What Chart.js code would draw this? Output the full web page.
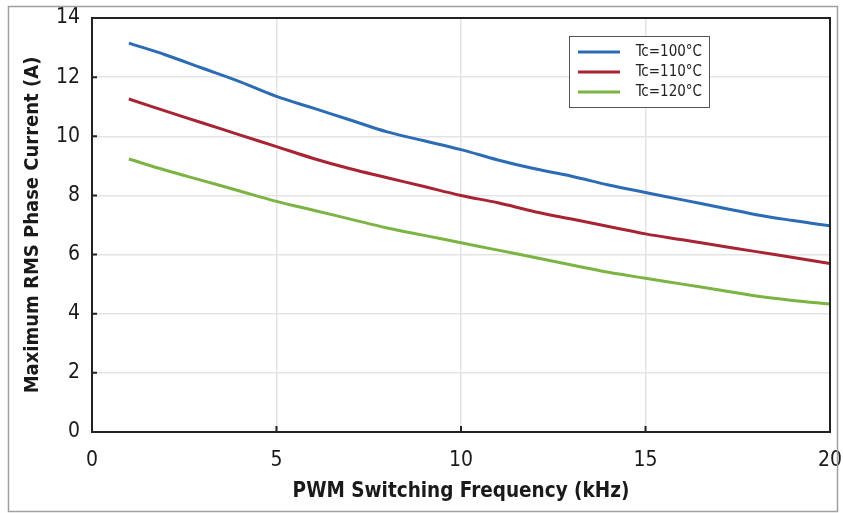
<!DOCTYPE html>
<html>
<head>
<meta charset="utf-8">
<script src="https://cdn.jsdelivr.net/npm/chart.js@4/dist/chart.umd.min.js"></script>
<style>
  html, body { margin: 0; padding: 0; background: #fff; }
  #wrap { width: 843px; height: 513px; position: relative; }
</style>
</head>
<body>
<div id="wrap"><canvas id="pwmChart" width="843" height="513"></canvas></div>
<script>
const freqKHz = [1, 2, 3, 4, 5, 6, 7, 8, 9, 10, 11, 12, 13, 14, 15, 16, 17, 18, 19, 20];
const tc100 = [13.15, 12.75, 12.3, 11.85, 11.35, 10.95, 10.55, 10.15, 9.85, 9.55, 9.2, 8.9, 8.65, 8.35, 8.1, 7.85, 7.6, 7.35, 7.15, 6.97];
const tc110 = [11.26, 10.85, 10.45, 10.05, 9.65, 9.25, 8.9, 8.6, 8.3, 8.0, 7.75, 7.45, 7.2, 6.95, 6.7, 6.5, 6.3, 6.1, 5.9, 5.7];
const tc120 = [9.23, 8.85, 8.5, 8.15, 7.8, 7.5, 7.2, 6.9, 6.65, 6.4, 6.15, 5.9, 5.65, 5.4, 5.2, 5.0, 4.8, 4.6, 4.45, 4.33];
const seriesLabels = ["Tc=100°C", "Tc=110°C", "Tc=120°C"];
const xTicks = [0, 5, 10, 15, 20];
const yTicks = [0, 2, 4, 6, 8, 10, 12, 14];

const FONT = "'DejaVu Sans Condensed', 'Liberation Sans Narrow', sans-serif";
const colors = ["#2b6cb5", "#a82333", "#7bb443"];

const toPoints = (ys) => ys.map((y, i) => ({ x: freqKHz[i], y }));

// outer border, plot frame with inward ticks, and the boxed legend
const framePlugin = {
  id: "frame",
  afterDraw(chart) {
    const { ctx, chartArea: a, scales } = chart;
    ctx.save();
    ctx.strokeStyle = "#a0a0a0";
    ctx.lineWidth = 1.5;
    ctx.strokeRect(8.5, 6.5, 829, 505);

    ctx.strokeStyle = "#222";
    ctx.lineWidth = 2;
    ctx.strokeRect(a.left, a.top, a.right - a.left, a.bottom - a.top);
    ctx.beginPath();
    yTicks.forEach((v) => {
      const py = scales.y.getPixelForValue(v);
      ctx.moveTo(a.left, py);
      ctx.lineTo(a.left + 5, py);
    });
    xTicks.slice(1, -1).forEach((v) => {
      const px = scales.x.getPixelForValue(v);
      ctx.moveTo(px, a.bottom);
      ctx.lineTo(px, a.bottom - 6);
    });
    ctx.stroke();

    const bx = 569, by = 36, bw = 140, bh = 71;
    ctx.fillStyle = "#fff";
    ctx.fillRect(bx, by, bw, bh);
    ctx.strokeStyle = "#555";
    ctx.lineWidth = 1;
    ctx.strokeRect(bx + 0.5, by + 0.5, bw, bh);
    ctx.font = "15px " + FONT;
    ctx.textAlign = "right";
    ctx.textBaseline = "middle";
    chart.data.datasets.forEach((ds, i) => {
      const yy = by + 16 + i * 20;
      ctx.strokeStyle = ds.borderColor;
      ctx.lineWidth = 3;
      ctx.beginPath();
      ctx.moveTo(bx + 9, yy);
      ctx.lineTo(bx + 51, yy);
      ctx.stroke();
      ctx.fillStyle = "#222";
      ctx.fillText(ds.label, bx + 133, yy);
    });
    ctx.restore();
  }
};

new Chart(document.getElementById("pwmChart").getContext("2d"), {
  type: "line",
  data: {
    datasets: [tc100, tc110, tc120].map((vals, i) => ({
      label: seriesLabels[i],
      data: toPoints(vals),
      borderColor: colors[i],
      backgroundColor: colors[i],
      borderWidth: 3,
      pointRadius: 0,
      tension: 0.4,
      fill: false,
    })),
  },
  options: {
    responsive: false,
    animation: false,
    layout: { padding: { left: 0, top: 18, right: 13, bottom: 0 } },
    plugins: {
      legend: { display: false },
      tooltip: { enabled: false },
    },
    scales: {
      x: {
        type: "linear",
        min: 0,
        max: 20,
        afterBuildTicks: (s) => { s.ticks = xTicks.map((v) => ({ value: v })); },
        afterFit: (s) => { s.height = 81; s.paddingLeft = 0; s.paddingRight = 0; },
        grid: { color: "#e4e4e4", lineWidth: 1.5, drawTicks: false, tickLength: 0 },
        border: { display: false },
        ticks: { color: "#1a1a1a", font: { family: FONT, size: 21 }, padding: 16 },
        title: {
          display: true,
          text: "PWM Switching Frequency (kHz)",
          color: "#1a1a1a",
          font: { family: FONT, size: 20.5, weight: "bold" },
          padding: { top: 0, bottom: 9 },
        },
      },
      y: {
        min: 0,
        max: 14,
        afterBuildTicks: (s) => { s.ticks = yTicks.map((v) => ({ value: v })); },
        afterFit: (s) => { s.width = 92; s.paddingTop = 0; s.paddingBottom = 0; },
        grid: { color: "#e4e4e4", lineWidth: 1.5, drawTicks: false, tickLength: 0 },
        border: { display: false },
        ticks: { color: "#1a1a1a", font: { family: FONT, size: 21 }, padding: 12 },
        title: {
          display: true,
          text: "Maximum RMS Phase Current (A)",
          color: "#1a1a1a",
          font: { family: FONT, size: 20, weight: "bold" },
          padding: { top: 21, bottom: 0 },
        },
      },
    },
  },
  plugins: [framePlugin],
});
</script>
</body>
</html>
